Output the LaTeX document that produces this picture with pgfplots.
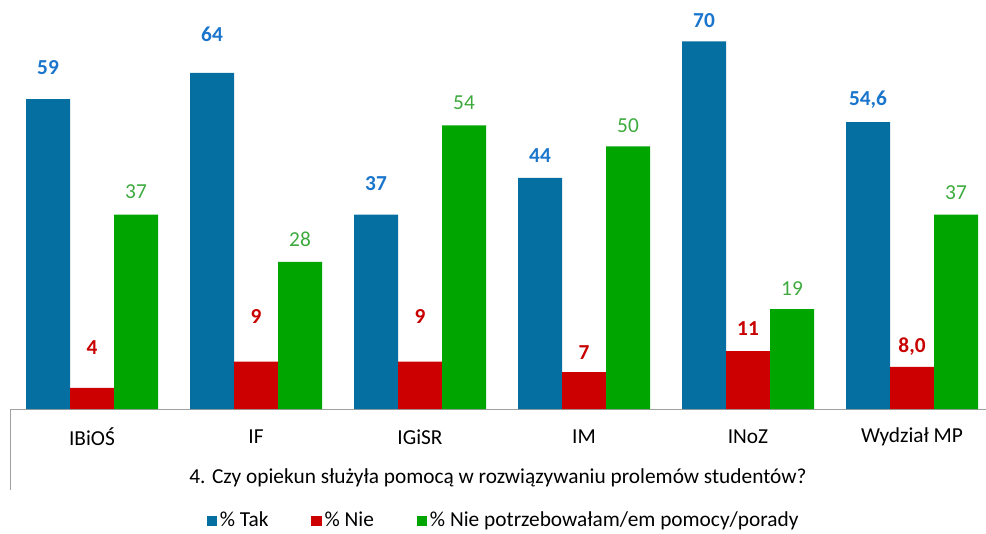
\documentclass[border=0pt]{standalone}
\usepackage{pgfplots}
\pgfplotsset{compat=1.18}
\usepackage{pgfplotstable}
\usepackage{fontspec}
\setmainfont{Carlito}

\definecolor{takc}{HTML}{066FA2}
\definecolor{niec}{HTML}{CC0000}
\definecolor{npc}{HTML}{00A500}
\definecolor{taklab}{HTML}{1A75CC}
\definecolor{nielab}{HTML}{C80000}
\definecolor{nplab}{HTML}{3DAA3D}
\definecolor{axc}{HTML}{A0A0A0}

% off = distance (px) from bar top to label centre
\pgfplotstableread{
x y lab off
0 59 59 31
1 64 64 38
2 37 37 31
3 44 44 22
4 70 70 21
5 54.6 54,6 23
}\tak
\pgfplotstableread{
x y lab off
0 4 4 40
1 9 9 45
2 9 9 45
3 7 7 20
4 11 11 23
5 8.0 8,0 20
}\nie
\pgfplotstableread{
x y lab off
0 37 37 23
1 28 28 23
2 54 54 23
3 50 50 21
4 19 19 21
5 37 37 22
}\npotrz

\begin{document}
\fontsize{16}{19}\selectfont
\begin{tikzpicture}
\begin{axis}[
    scale only axis,
    width=732pt, height=295.5pt,
    ybar=0pt, bar width=33pt,
    xmin=-0.5, xmax=5.451,
    ymin=0, ymax=75,
    clip=false,
    axis x line*=bottom, axis y line=none,
    x axis line style={draw=axc, -},
    ytick=\empty,
    xtick={0,...,5},
    xticklabels={IBiOŚ,IF,IGiSR,IM,INoZ,Wydział MP},
    major tick length=0pt,
    xticklabel style={anchor=center, yshift=-21pt},
    point meta=explicit symbolic,
    visualization depends on={0.75*\thisrow{off} \as \off},
    nodes near coords,
    nodes near coords style={anchor=center, yshift=\off pt},
    legend style={at={(0.506,0)}, anchor=center, yshift=-84pt,
        draw=none, legend columns=-1,
        /tikz/every even column/.append style={column sep=30pt}},
    legend image code/.code={\fill[#1] (0pt,-4pt) rectangle (8pt,4pt);},
]
\addplot[fill=takc, draw=none,
    every node near coord/.append style={text=taklab, font=\bfseries}]
    table[x=x, y=y, meta=lab] {\tak};
\addplot[fill=niec, draw=none,
    every node near coord/.append style={text=nielab, font=\bfseries}]
    table[x=x, y=y, meta=lab] {\nie};
\addplot[fill=npc, draw=none,
    every node near coord/.append style={text=nplab}]
    table[x=x, y=y, meta=lab] {\npotrz};
\legend{\% Tak, \% Nie, \% Nie potrzebowałam/em pomocy/porady}
\draw[axc] (rel axis cs:0,0) -- ++(0pt,-60.75pt);
\node[anchor=center, yshift=-51.75pt] at (rel axis cs:0.5,0)
    {4. Czy opiekun służyła pomocą w rozwiązywaniu prolemów studentów?};
\coordinate (sw) at (rel axis cs:0,0);
\end{axis}
\pgfresetboundingbox
\path ([shift={(-7.5pt,-93pt)}]sw) rectangle ([shift={(732pt,306.75pt)}]sw);
\end{tikzpicture}
\end{document}
